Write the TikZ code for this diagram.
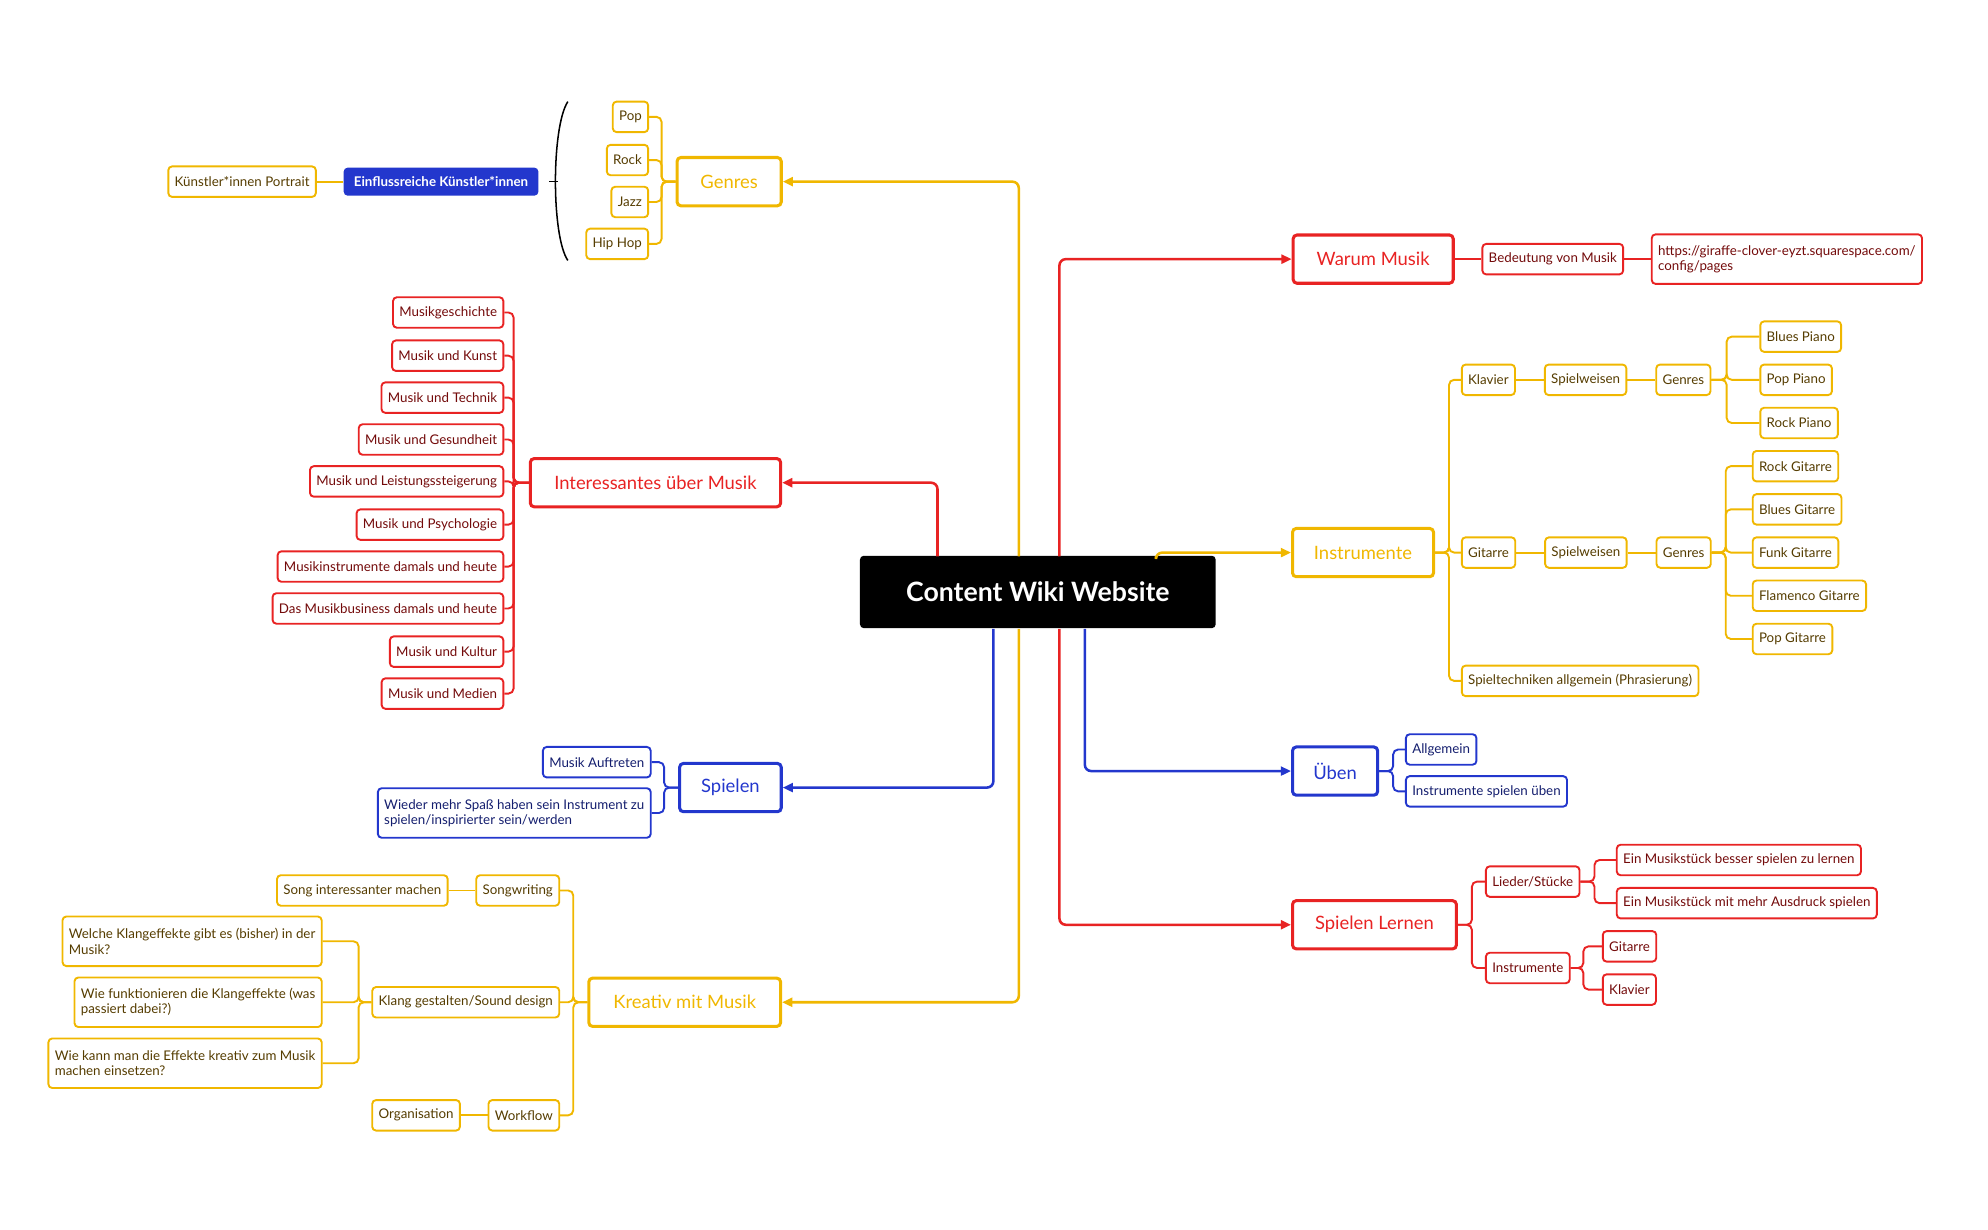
\documentclass[tikz,border=0pt]{standalone}
\usepackage{fontspec}
\setmainfont{Lato}
\usetikzlibrary{positioning,arrows.meta}
\definecolor{myred}{RGB}{232,35,35}
\definecolor{myyel}{RGB}{240,183,0}
\definecolor{myblue}{RGB}{35,55,205}
\definecolor{yeltext}{RGB}{85,60,0}
\definecolor{redtext}{RGB}{115,10,10}
\definecolor{bluetext}{RGB}{20,30,110}
\tikzstyle{every sub} = [draw, line width=1.5pt, rounded corners=3pt, minimum height=24pt, inner xsep=5pt, font=\fontsize{10.5}{12}\selectfont]
\tikzstyle{ysub} = [every sub, myyel, text=yeltext]
\tikzstyle{rsub} = [every sub, myred, text=redtext]
\tikzstyle{bsub} = [every sub, myblue, text=bluetext]
\tikzstyle{twoline} = [align=left, minimum height=39pt]
\tikzstyle{topic} = [draw, line width=2.4pt, rounded corners=3pt, minimum height=38pt, inner xsep=14pt, text=black, font=\fontsize{14.5}{16}\selectfont]
\tikzstyle{yline} = [myyel, line width=1.5pt, rounded corners=4pt]
\tikzstyle{rline} = [myred, line width=1.5pt, rounded corners=4pt]
\tikzstyle{bline} = [myblue, line width=1.5pt, rounded corners=4pt]
\tikzstyle{arm} = [line width=2pt, rounded corners=5pt, -{Triangle[length=8pt,width=7pt]}]

\begin{document}
\begin{tikzpicture}[x=1pt, y=-1pt, node distance=22pt]
    \useasboundingbox (0,0) rectangle (1565,968);

    % center
    \node[fill=black, rounded corners=3pt, minimum width=280pt, minimum height=57pt, text=white,
          font=\fontsize{21}{24}\selectfont\bfseries] (wiki) at (817,466) {Content Wiki Website};

    % topics left
    \node[topic, myyel, minimum width=82pt] (genres) at (574,143) {Genres};
    \node[topic, myred, minimum width=197pt] (inter) at (516,380) {Interessantes über Musik};
    \node[topic, myblue, minimum width=80pt] (spielen) at (575,620) {Spielen};
    \node[topic, myyel, minimum width=151pt] (kreativ) at (539,789) {Kreativ mit Musik};
    % topics right
    \node[topic, myred, minimum width=126pt] (warum) at (1081,204) {Warum Musik};
    \node[topic, myyel, minimum width=111pt] (instr) at (1073,435) {Instrumente};
    \node[topic, myblue, minimum width=67pt] (ueben) at (1051,607) {Üben};
    \node[topic, myred, minimum width=129pt] (lernen) at (1082,728) {Spielen Lernen};

    % main arms
    \draw[arm, myyel] (802,438) |- (genres.east);
    \draw[arm, myred] (738,438) |- (inter.east);
    \draw[arm, myblue] (782,495) |- (spielen.east);
    \draw[arm, myyel] (802,495) |- (kreativ.east);
    \draw[arm, myred] (834,438) |- (warum.west);
    \draw[arm, myyel] (910,438) |- (instr.west);
    \draw[arm, myblue] (854,495) |- (ueben.west);
    \draw[arm, myred] (834,495) |- (lernen.west);

    % Genres
    \node[ysub, anchor=east] (pop) at (511,92) {Pop};
    \node[ysub, anchor=east] (rock) at (511,126) {Rock};
    \node[ysub, anchor=east] (jazz) at (511,159) {Jazz};
    \node[ysub, anchor=east] (hiphop) at (511,192) {Hip Hop};
    \foreach \c in {pop,rock,jazz,hiphop}
        \draw[yline] (genres.west) -- ++(-11,0) |- (\c.east);
    \coordinate (brace) at (439,143);
    \draw[line width=1.2pt] (447,80) .. controls (434,100) and (434,186) .. (447,205);
    \draw[line width=1.2pt] (brace) -- ++(-7,0);
    \node[fill=myblue, rounded corners=3pt, text=white, minimum height=22pt, inner xsep=8pt,
          font=\fontsize{10.5}{12}\selectfont\bfseries, anchor=east] (einfluss) at (424,143) {Einflussreiche Künstler*innen};
    \node[ysub, left=21pt of einfluss] (portrait) {Künstler*innen Portrait};
    \draw[yline] (einfluss) -- (portrait);

    % Interessantes
    \foreach \n/\y/\t in {i1/246/Musikgeschichte, i2/280/Musik und Kunst, i3/313/Musik und Technik,
        i4/346/Musik und Gesundheit, i5/379/Musik und Leistungssteigerung, i6/413/Musik und Psychologie,
        i7/446/Musikinstrumente damals und heute, i8/479/Das Musikbusiness damals und heute,
        i9/513/Musik und Kultur, i10/546/Musik und Medien}
    {
        \node[rsub, anchor=east] (\n) at (397,\y) {\t};
        \draw[rline] (inter.west) -- ++(-12,0) |- (\n.east);
    }

    % Spielen
    \node[bsub, anchor=east] (auftreten) at (513,600) {Musik Auftreten};
    \node[bsub, twoline, anchor=east] (spass) at (513,640) {Wieder mehr Spaß haben sein Instrument zu\\spielen/inspirierter sein/werden};
    \foreach \c in {auftreten,spass}
        \draw[bline] (spielen.west) -- ++(-11,0) |- (\c.east);

    % Kreativ
    \node[ysub, anchor=east] (songw) at (441,701) {Songwriting};
    \node[ysub, anchor=east] (klang) at (441,789) {Klang gestalten/Sound design};
    \node[ysub, anchor=east] (workflow) at (441,878) {Workflow};
    \foreach \c in {songw,klang,workflow}
        \draw[yline] (kreativ.west) -- ++(-11,0) |- (\c.east);
    \node[ysub, left=21pt of songw] (songint) {Song interessanter machen};
    \draw[yline] (songw) -- (songint);
    \node[ysub, left=21pt of workflow] (orga) {Organisation};
    \draw[yline] (workflow) -- (orga);
    \node[ysub, twoline, anchor=east] (k1) at (254,741) {Welche Klangeffekte gibt es (bisher) in der\\Musik?};
    \node[ysub, twoline, anchor=east] (k2) at (254,789) {Wie funktionieren die Klangeffekte (was\\passiert dabei?)};
    \node[ysub, twoline, anchor=east] (k3) at (254,837) {Wie kann man die Effekte kreativ zum Musik\\machen einsetzen?};
    \foreach \c in {k1,k2,k3}
        \draw[yline] (klang.west) -- ++(-10,0) |- (\c.east);

    % Warum Musik
    \node[rsub, right=21pt of warum] (bedeutung) {Bedeutung von Musik};
    \node[rsub, twoline, right=21pt of bedeutung] (url) {https://giraffe-clover-eyzt.squarespace.com/\\config/pages};
    \draw[rline] (warum) -- (bedeutung);
    \draw[rline] (bedeutung) -- (url);

    % Instrumente
    \node[ysub, anchor=west] (klavier) at (1150,299) {Klavier};
    \node[ysub, anchor=west] (gitarre) at (1150,435) {Gitarre};
    \node[ysub, anchor=west] (technik) at (1150,536) {Spieltechniken allgemein (Phrasierung)};
    \foreach \c in {klavier,gitarre,technik}
        \draw[yline] (instr.east) -- ++(11,0) |- (\c.west);
    \node[ysub, right=22pt of klavier] (kweise) {Spielweisen};
    \node[ysub, right=22pt of kweise] (kgenres) {Genres};
    \draw[yline] (klavier) -- (kweise);
    \draw[yline] (kweise) -- (kgenres);
    \foreach \n/\y/\t in {p1/265/Blues Piano, p2/299/Pop Piano, p3/333/Rock Piano}
    {
        \node[ysub, anchor=west] (\n) at (1385,\y) {\t};
        \draw[yline] (kgenres.east) -- ++(12,0) |- (\n.west);
    }
    \node[ysub, right=22pt of gitarre] (gweise) {Spielweisen};
    \node[ysub, right=22pt of gweise] (ggenres) {Genres};
    \draw[yline] (gitarre) -- (gweise);
    \draw[yline] (gweise) -- (ggenres);
    \foreach \n/\y/\t in {g1/367/Rock Gitarre, g2/401/Blues Gitarre, g3/435/Funk Gitarre,
        g4/469/Flamenco Gitarre, g5/503/Pop Gitarre}
    {
        \node[ysub, anchor=west] (\n) at (1379,\y) {\t};
        \draw[yline] (ggenres.east) -- ++(11,0) |- (\n.west);
    }

    % Üben
    \node[bsub, anchor=west] (allg) at (1106,590) {Allgemein};
    \node[bsub, anchor=west] (instrueben) at (1106,623) {Instrumente spielen üben};
    \foreach \c in {allg,instrueben}
        \draw[bline] (ueben.east) -- ++(11,0) |- (\c.west);

    % Spielen Lernen
    \node[rsub, anchor=west] (lieder) at (1169,694) {Lieder/Stücke};
    \node[rsub, anchor=west] (linstr) at (1169,762) {Instrumente};
    \foreach \c in {lieder,linstr}
        \draw[rline] (lernen.east) -- ++(11,0) |- (\c.west);
    \node[rsub, anchor=west] (besser) at (1272,677) {Ein Musikstück besser spielen zu lernen};
    \node[rsub, anchor=west] (ausdruck) at (1272,711) {Ein Musikstück mit mehr Ausdruck spielen};
    \foreach \c in {besser,ausdruck}
        \draw[rline] (lieder.east) -- ++(11,0) |- (\c.west);
    \node[rsub, anchor=west] (lgit) at (1261,745) {Gitarre};
    \node[rsub, anchor=west] (lklav) at (1261,779) {Klavier};
    \foreach \c in {lgit,lklav}
        \draw[rline] (linstr.east) -- ++(10,0) |- (\c.west);
\end{tikzpicture}
\end{document}
